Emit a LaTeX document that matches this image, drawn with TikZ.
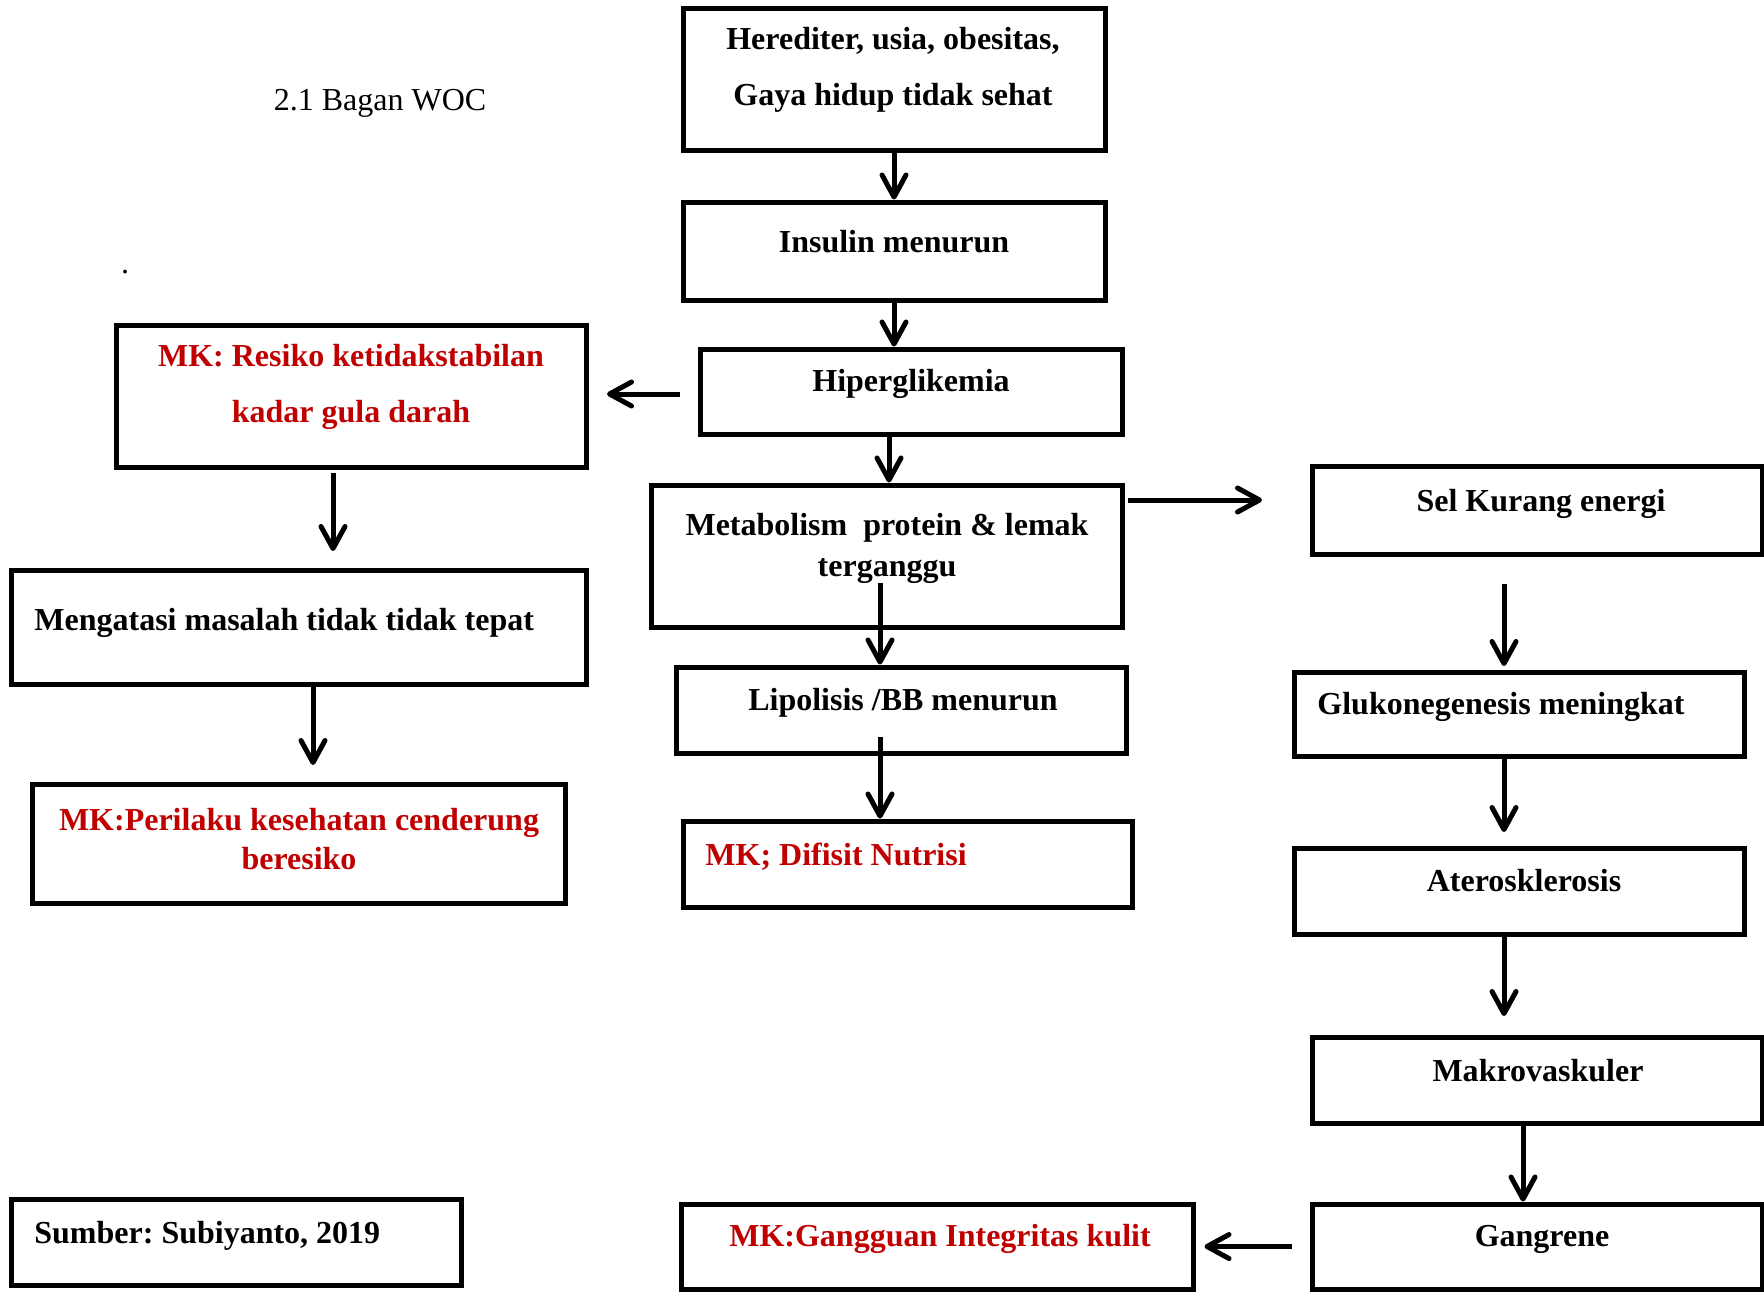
\documentclass[tikz,border=0pt]{standalone}
\usepackage{fontspec}
\setmainfont{Liberation Serif}
\frenchspacing
\usetikzlibrary{arrows.meta,fit}
\definecolor{mkred}{HTML}{C00000}
\begin{document}
\begin{tikzpicture}[x=0.5pt,y=-0.5pt,
  box/.style={draw, line width=2.5pt, inner sep=0pt},
  plain/.style={font=\fontsize{16}{19}\selectfont, inner sep=0pt, yshift=-2pt},
  txtm/.style={font=\bfseries\fontsize{16}{28}\selectfont, inner sep=0pt, align=center, yshift=-2pt},
  txt/.style={txtm, text height=11pt, text depth=3.5pt},
  red/.style={text=mkred},
  arr/.style={line width=2.5pt, -{Straight Barb[length=11pt,width=12pt,line cap=round,line join=round]}}
]
\useasboundingbox (0,0) rectangle (1764,1291);
% boxes
\node[box, fit={(683,8) (1105,150)}] (b1) {};
\node[box, fit={(683,202) (1105,300)}] (b2) {};
\node[box, fit={(700,349) (1122,434)}] (b3) {};
\node[box, fit={(116,325) (586,467)}] (b4) {};
\node[box, fit={(651,485) (1122,627)}] (b5) {};
\node[box, fit={(1312,466) (1762,554)}] (b6) {};
\node[box, fit={(11,570) (586,684)}] (b7) {};
\node[box, fit={(676,667) (1126,753)}] (b8) {};
\node[box, fit={(1294,672) (1744,756)}] (b9) {};
\node[box, fit={(32,784) (565,903)}] (b10) {};
\node[box, fit={(683,821) (1132,907)}] (b11) {};
\node[box, fit={(1294,848) (1744,934)}] (b12) {};
\node[box, fit={(1312,1037) (1762,1123)}] (b13) {};
\node[box, fit={(11,1199) (461,1285)}] (b14) {};
\node[box, fit={(681,1204) (1193,1289)}] (b15) {};
\node[box, fit={(1312,1204) (1762,1289)}] (b16) {};
% texts
\node[plain] (title) at (380,99) {2.1 Bagan WOC};
\node[plain] (dot) at (125,268) {.};
\node[txtm] (t1) at (893,66) {Herediter, usia, obesitas,\\Gaya hidup tidak sehat};
\node[txt] (t2) at (894,241) {Insulin menurun};
\node[txt] (t3) at (911,380) {Hiperglikemia};
\node[txtm, red] (t4) at (351,383) {MK: Resiko ketidakstabilan\\kadar gula darah};
\node[txtm, font=\bfseries\fontsize{16}{20.5}\selectfont] (t5) at (887,544) {Metabolism\ \ protein \& lemak\\terganggu};
\node[txt] (t6) at (1541,500) {Sel Kurang energi};
\node[txt, anchor=west] (t7) at (34,619) {Mengatasi masalah tidak tidak tepat};
\node[txt] (t8) at (903,699) {Lipolisis /BB menurun};
\node[txt, anchor=west] (t9) at (1317,703) {Glukonegenesis meningkat};
\node[txtm, red, font=\bfseries\fontsize{16}{19.5}\selectfont] (t10) at (299,835) {MK:Perilaku kesehatan cenderung\\beresiko};
\node[txt, red, anchor=west] (t11) at (705,854) {MK; Difisit Nutrisi};
\node[txt] (t12) at (1524,880) {Aterosklerosis};
\node[txt] (t13) at (1538,1070) {Makrovaskuler};
\node[txt, anchor=west] (t14) at (34,1232) {Sumber: Subiyanto, 2019};
\node[txt, red] (t15) at (940,1235) {MK:Gangguan Integritas kulit};
\node[txt] (t16) at (1542,1235) {Gangrene};
% free ends
\coordinate (e3) at (607,394);
\coordinate (e5) at (333,551);
\coordinate (e6) at (1262,500);
\coordinate (s7) at (880,583);
\coordinate (s8) at (1504,584);
\coordinate (e8) at (1504,666);
\coordinate (e9) at (313,765);
\coordinate (s10) at (880,737);
\coordinate (e11) at (1504,832);
\coordinate (e12) at (1504,1016);
% arrows
\draw[arr] (b1.south) -- (b2.north);
\draw[arr] (b2.south) -- (b2.south |- b3.north);
\draw[arr] (e3 -| b3.west) ++(-9pt,0) -- (e3);
\draw[arr] ([xshift=-11pt]b3.south) -- ([xshift=-11pt]b3.south |- b5.north);
\draw[arr] (e5 |- b4.south) ++(0,-1.5pt) -- (e5);
\draw[arr] (e6 -| b5.east) ++(1.5pt,0) -- (e6);
\draw[arr] (s7) -- (s7 |- b8.north);
\draw[arr] (s8) -- (e8);
\draw[arr] (e9 |- b7.south) -- (e9);
\draw[arr] (s10) -- (s10 |- b11.north);
\draw[arr] (e11 |- b9.south) -- (e11);
\draw[arr] (e12 |- b12.south) -- (e12);
\draw[arr] ([xshift=-7pt]b13.south) -- ([xshift=-7pt]b16.north);
\draw[arr] ([xshift=-9pt]b16.west) -- ([xshift=4.5pt]b15.east);
\end{tikzpicture}
\end{document}
